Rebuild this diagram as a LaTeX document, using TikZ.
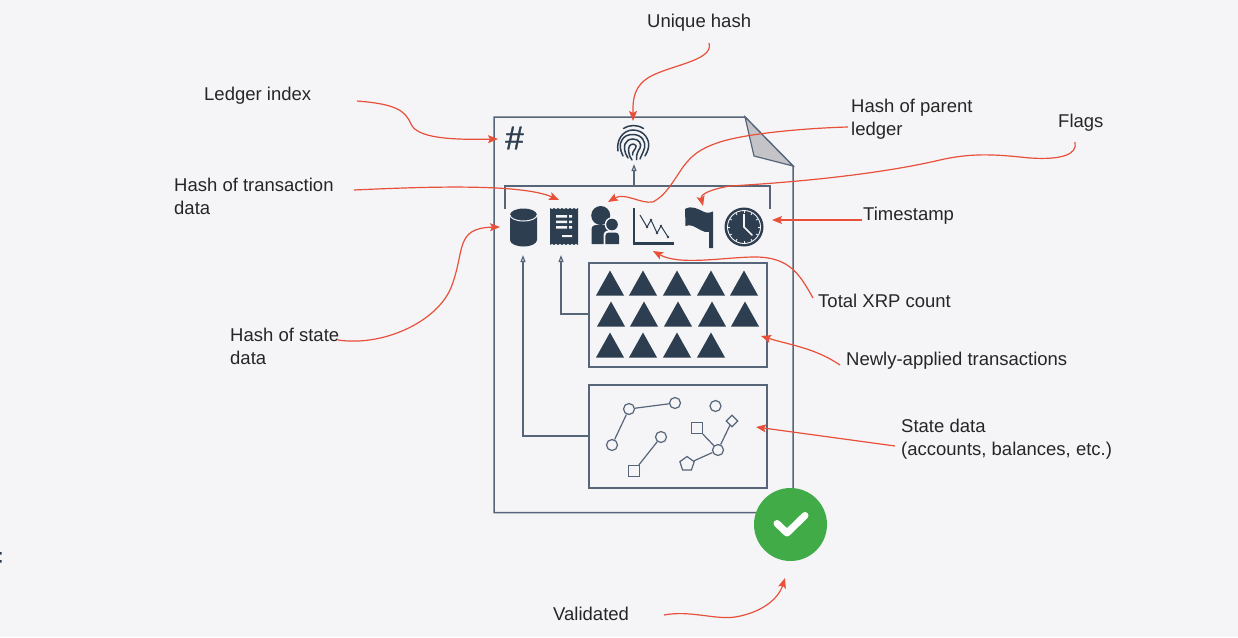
\documentclass[tikz,border=0pt]{standalone}
\usepackage{fontspec}
\setmainfont{Liberation Sans}
\newfontfamily\hashfont[FakeBold=1.2]{Liberation Sans}
\usetikzlibrary{arrows.meta,shapes.geometric}
\definecolor{bgc}{HTML}{F5F5F8}
\definecolor{navy}{HTML}{2D3E50}
\definecolor{edgec}{HTML}{566578}
\definecolor{redc}{HTML}{E8503A}
\definecolor{greenc}{HTML}{41AB47}
\definecolor{foldc}{HTML}{C4C4C8}
\tikzset{
  lab/.style={font=\fontsize{18.5}{23}\selectfont,text=black!85,anchor=west,align=left,inner sep=0pt},
  note/.style={draw=redc,line width=1.2pt,-{Stealth[length=10pt,width=8pt,inset=2pt]}},
  frameline/.style={draw=edgec,line width=1.5pt},
  feed/.style={draw=edgec,line width=1.2pt,-{Triangle[open,length=7pt,width=5pt]}},
  tri/.style={fill=navy,draw=none},
  gnode/.style={draw=edgec,line width=1.2pt,fill=bgc,inner sep=0pt,minimum size=11pt,circle},
  gsq/.style={draw=edgec,line width=1.2pt,fill=bgc,inner sep=0pt,minimum size=11pt,rectangle},
  gdia/.style={draw=edgec,line width=1.2pt,fill=bgc,inner sep=0pt,minimum size=11pt,diamond},
  gpen/.style={draw=edgec,line width=1.2pt,fill=bgc,inner sep=0pt,minimum size=15pt,regular polygon,regular polygon sides=5},
  gline/.style={draw=edgec,line width=1.2pt},
}
\begin{document}
\begin{tikzpicture}[x=1pt,y=-1pt]
\useasboundingbox (0,0) rectangle (1238,637);
\fill[bgc] (0,0) rectangle (1238,637);
\fill[navy] (0,552) rectangle (1.5,554.5) (0,560) rectangle (1.5,562.5);

% document
\path[frameline,fill=bgc] (494,117) -- (745,117) -- (793,166) -- (793,512.5) -- (494,512.5) -- cycle;
\path[draw=edgec,line width=1.2pt,fill=foldc] (745,117) -- (754,156) -- (793,166) -- cycle;

% boxes
\node[frameline,outer sep=0pt,minimum width=178pt,minimum height=104pt,inner sep=0pt,anchor=north west] (txbox) at (589,263) {};
\node[frameline,outer sep=0pt,minimum width=178pt,minimum height=103pt,inner sep=0pt,anchor=north west] (statebox) at (589,385) {};

% icons row bracket
\coordinate (brL) at (505,209);
\coordinate (brLt) at (505,186);
\coordinate (brR) at (770,209);
\coordinate (brRt) at (770,186);
\coordinate (brM) at (634,186);
\coordinate (fpIn) at (634,164);
\draw[frameline] (brL) -- (brLt) -- (brRt) -- (brR);
\draw[feed] (brM) -- (fpIn);

% hash sign
\node[inner sep=0pt,text=navy,font=\hashfont\fontsize{33}{33}\selectfont] (hashsign) at (514.5,138) {\#};

% fingerprint
\begin{scope}[draw=navy,line width=1.5pt,line cap=round,fill=none]
  \draw (623.5,128.5) .. controls (630,124.5) and (637,124.5) .. (643.5,128.5);
  \draw (618,151) .. controls (616,140) and (623,130) .. (633,130) .. controls (644,130) and (650,140) .. (648.5,147) .. controls (648,151) and (646,154) .. (645,156);
  \draw (623,156) .. controls (620,150) and (619,144) .. (622,140) .. controls (624,136) and (628,134.5) .. (633,134.5) .. controls (642,134.5) and (646,142) .. (644.5,148) .. controls (643,153) and (641,156) .. (640,159);
  \draw (628,158) .. controls (624,152) and (624,147) .. (625,144) .. controls (626,141) and (629,139) .. (633,139) .. controls (639,139) and (642,144) .. (640,148) .. controls (638,151) and (636,155) .. (636.5,159.5);
  \draw (632,160) .. controls (628,155) and (628,148) .. (629.5,146) .. controls (631,143.5) and (635,143.5) .. (636,146) .. controls (636.5,149) and (632,151) .. (632.5,155);
\end{scope}

% cylinder
\fill[navy] (510,215) arc[start angle=180,end angle=360,x radius=13.5,y radius=6.5] -- (537,240) arc[start angle=0,end angle=180,x radius=13.5,y radius=6.5] -- cycle;
\draw[bgc,line width=1pt] (510,215) arc[start angle=180,end angle=0,x radius=13.5,y radius=6];

% receipt
\fill[navy] (550,208) \foreach \i in {1,...,7}{ -- ++(2,1.2) -- ++(2,-1.2)} -- (578,245) \foreach \i in {1,...,7}{ -- ++(-2,-1.2) -- ++(-2,1.2)} -- cycle;
\fill[bgc] (556,215) rectangle (567,217.5) (569,215) rectangle (572,217.5)
           (556,220.5) rectangle (567,223) (569,220.5) rectangle (572,223)
           (556,226) rectangle (567,228.5) (569,226) rectangle (572,228.5)
           (562,235) rectangle (572,237);

% person
\fill[navy] (600.7,215.5) circle[radius=9.5];
\fill[navy] (591.5,244) -- (591.5,229) arc[start angle=180,end angle=270,radius=4] -- (608,225) -- (608,244) -- cycle;
\fill[bgc] (612,224.5) circle[radius=7.3];
\fill[bgc] (603.5,246) -- (603.5,235) arc[start angle=180,end angle=270,radius=4.5] -- (616,230.5) arc[start angle=270,end angle=360,radius=4.5] -- (620.5,246) -- cycle;
\fill[navy] (612,224.5) circle[radius=5.8];
\fill[navy] (605.3,244) -- (605.3,236) arc[start angle=180,end angle=270,radius=3.5] -- (615.5,232.5) arc[start angle=270,end angle=360,radius=3.5] -- (619,244) -- cycle;

% chart
\draw[navy,line width=2.2pt] (634,208) -- (634,243.5) -- (674,243.5);
\draw[navy,line width=1pt] (640,215) -- (647,227) -- (651,220) -- (657,233) -- (661,226) -- (668,237);
\foreach \p in {(647,227),(651,220),(657,233),(661,226),(668,237)} \fill[navy] \p circle[radius=1.4];

% flag
\fill[navy] (685,209) .. controls (692,205) and (698,209) .. (704,212) .. controls (708,213.5) and (711,212.5) .. (713,211.5) -- (713,248) -- (709,248) -- (709,232)
  .. controls (703,233) and (698,228) .. (693,226) .. controls (690,225) and (688,225) .. (685.5,226) -- cycle;

% clock
\fill[navy] (744,227) circle[radius=19.5];
\draw[bgc,line width=.9pt] (744,227) circle[radius=16.5];
\foreach \a in {0,30,...,330} \draw[bgc,line width=.8pt] (744,227) ++(\a:14) -- ++(\a:2);
\draw[bgc,line width=1.6pt,line cap=round] (744,214.5) -- (744,227) -- (752,235);

% triangles
\foreach \x in {610,643,677,711,744} \fill[tri] (\x-14,295.5) -- (\x,270.5) -- (\x+14,295.5) -- cycle;
\foreach \x in {611,644,678,712,745} \fill[tri] (\x-14,326.5) -- (\x,301.5) -- (\x+14,326.5) -- cycle;
\foreach \x in {610,643,677,711} \fill[tri] (\x-14,357.5) -- (\x,332.5) -- (\x+14,357.5) -- cycle;

% feeds
\coordinate (txIn) at (561,255);
\coordinate (txElbow) at (561,314);
\coordinate (txOut) at (589,314);
\coordinate (stIn) at (523,255);
\coordinate (stElbow) at (523,436);
\coordinate (stOut) at (589,436);
\draw[feed] (txOut) -- (txElbow) -- (txIn);
\draw[feed] (stOut) -- (stElbow) -- (stIn);

% state graph
\node[gnode] (a1) at (629,409) {};
\node[gnode] (a2) at (675,403) {};
\node[gnode] (a3) at (612,445) {};
\node[gnode] (b1) at (661,437) {};
\node[gsq]   (b2) at (634,471) {};
\node[gnode] (c0) at (715.5,406) {};
\node[gdia,minimum size=12pt]  (c1) at (732,421) {};
\node[gsq]   (c2) at (697,428) {};
\node[gnode] (c3) at (718,450) {};
\node[gpen]  (c4) at (687,464) {};
\draw[gline] (a1) -- (a2);
\draw[gline] (a1) -- (a3);
\draw[gline] (b1) -- (b2);
\draw[gline] (c2) -- (c3);
\draw[gline] (c1) -- (c3);
\draw[gline] (c4) -- (c3);

% validated badge
\node[circle,fill=greenc,minimum size=73pt,inner sep=0pt] (badge) at (790.5,524.5) {};
\draw[white,line width=7pt,line cap=round,line join=round] (777,523.5) -- (787,533) -- (805,515.5);

% labels
\node[lab] (lUnique) at (647,23) {Unique hash};
\node[lab] (lLedger) at (204,96) {Ledger index};
\node[lab] (lParent) at (851,119) {Hash of parent\\ledger};
\node[lab] (lFlags) at (1058,122.5) {Flags};
\node[lab] (lTx) at (174,196) {Hash of transaction\\data};
\node[lab] (lTime) at (863,216) {Timestamp};
\node[lab] (lXrp) at (818,301) {Total XRP count};
\node[lab] (lNew) at (846,361) {Newly-applied transactions};
\node[lab] (lState) at (230,346) {Hash of state\\data};
\node[lab] (lData) at (901,439) {State data\\(accounts, balances, etc.)};
\node[lab] (lVal) at (553,613.5) {Validated};

% annotation anchors
\coordinate (sU) at (709,43);   \coordinate (eU) at (633,121);
\coordinate (sL) at (357,101);  \coordinate (eL) at (498,139);
\coordinate (sP) at (848,127);  \coordinate (eP) at (608,202);
\coordinate (sF) at (1075,142); \coordinate (eF) at (703,206);
\coordinate (sT) at (354,190);  \coordinate (eT) at (559,200);
\coordinate (sC) at (862,220);  \coordinate (eC) at (772,220);
\coordinate (sH) at (338,340);  \coordinate (eH) at (500,227);
\coordinate (sX) at (813,298);  \coordinate (eX) at (653,251);
\coordinate (sN) at (840,365);  \coordinate (eN) at (761,336);
\coordinate (sD) at (895,446);  \coordinate (eD) at (756,427);
\coordinate (sV) at (664,615);  \coordinate (eV) at (785,578);

\draw[note] (sU) .. controls (715,62) and (662,66) .. (645,80) .. controls (632,90) and (633,105) .. (eU);
\draw[note] (sL) .. controls (395,104) and (405,110) .. (411,124) .. controls (417,138) and (450,140) .. (eL);
\draw[note] (sP) .. controls (810,128) and (745,133) .. (717,143) .. controls (700,149) and (692,155) .. (683,167) .. controls (672,183) and (666,195) .. (653,202) .. controls (640,204) and (625,192) .. (eP);
\draw[note] (sF) .. controls (1078,155) and (1060,160) .. (1030,158) .. controls (1000,155) and (975,152) .. (940,160) .. controls (880,174) and (800,182) .. (730,186) .. controls (712,189) and (700,194) .. (eF);
\draw[note] (sT) .. controls (420,187) and (520,183) .. (eT);
\draw[note] (sC) -- (eC);
\draw[note] (sH) .. controls (385,347) and (440,320) .. (452,285) .. controls (465,250) and (455,228) .. (eH);
\draw[note] (sX) .. controls (800,275) and (790,257) .. (755,257) .. controls (725,257) and (680,266) .. (eX);
\draw[note] (sN) .. controls (815,348) and (790,345) .. (eN);
\draw[note] (sD) -- (eD);
\draw[note] (sV) .. controls (690,610) and (715,620) .. (735,617) .. controls (760,613) and (778,600) .. (eV);
\end{tikzpicture}
\end{document}
